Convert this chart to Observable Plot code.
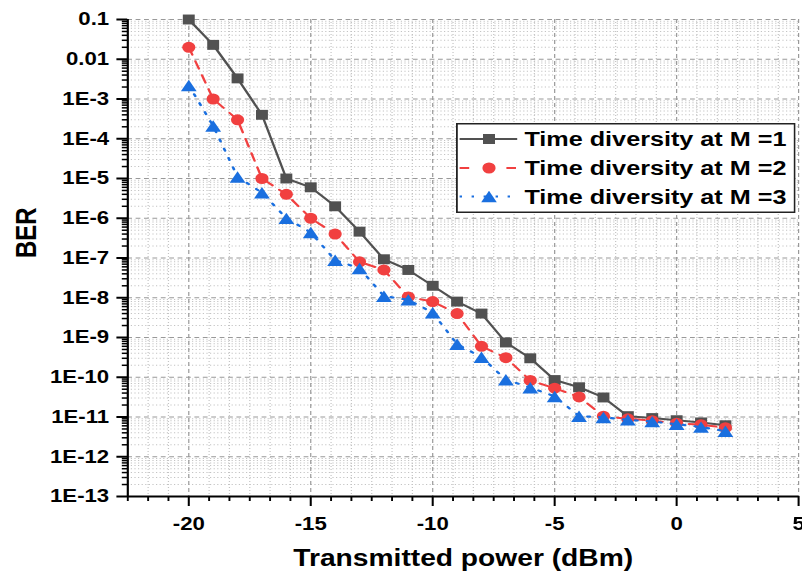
<!DOCTYPE html>
<html>
<head>
<meta charset="utf-8">
<script src="https://cdn.jsdelivr.net/npm/d3@7"></script>
<script src="https://cdn.jsdelivr.net/npm/@observablehq/plot@0.6"></script>
<style>
  html, body { margin: 0; padding: 0; background: #fff; }
  #wrap { position: relative; width: 668px; height: 576px; transform: scaleX(1.2); transform-origin: 0 0; font-family: "Liberation Sans", Arial, sans-serif; }
  #legend { position: absolute; left: 380px; top: 123px; }
</style>
</head>
<body>
<div id="wrap"><div id="chart"></div><div id="legend"></div></div>
<script>
// ---- data ----
const power = [-20,-19,-18,-17,-16,-15,-14,-13,-12,-11,-10,-9,-8,-7,-6,-5,-4,-3,-2,-1,0,1,2];
const berM1 = [0.1, 0.023, 3.3e-3, 4e-4, 1e-5, 6e-6, 2e-6, 4.6e-7, 9.3e-8, 5e-8, 2e-8, 8e-9, 4e-9, 7.5e-10, 3e-10, 8.5e-11, 5.6e-11, 3.1e-11, 1.05e-11, 9.4e-12, 8.3e-12, 7.3e-12, 6.2e-12];
const berM2 = [0.02, 1e-3, 3e-4, 1e-5, 4e-6, 1e-6, 4e-7, 8e-8, 5e-8, 1.05e-8, 8e-9, 4e-9, 6e-10, 3.1e-10, 8.3e-11, 5.3e-11, 3.2e-11, 1.05e-11, 9e-12, 8.1e-12, 7e-12, 6.4e-12, 5.4e-12];
const berM3 = [2.2e-3, 2.1e-4, 1.1e-5, 4.4e-6, 1e-6, 4.4e-7, 8.8e-8, 5.5e-8, 1.1e-8, 8.9e-9, 4.2e-9, 6.8e-10, 3.2e-10, 8.7e-11, 5.5e-11, 3.3e-11, 1.05e-11, 9.8e-12, 8.5e-12, 7.7e-12, 6.6e-12, 5.6e-12, 4.4e-12];
const seriesNames = ["Time diversity at M =1", "Time diversity at M =2", "Time diversity at M =3"];
const xTickValues = [-20, -15, -10, -5, 0, 5];
const xTickLabels = ["-20", "-15", "-10", "-5", "0", "5"];
const yTickValues = [1e-13, 1e-12, 1e-11, 1e-10, 1e-9, 1e-8, 1e-7, 1e-6, 1e-5, 1e-4, 1e-3, 0.01, 0.1];
const yTickLabels = ["1E-13", "1E-12", "1E-11", "1E-10", "1E-9", "1E-8", "1E-7", "1E-6", "1E-5", "1E-4", "1E-3", "0.01", "0.1"];
const xLabel = "Transmitted power (dBm)";
const yLabel = "BER";

// ---- styles ----
const colors = ["#515151", "#F14040", "#1A6FDF"];
const xDomain = [-22.5, 5];
const yDomain = [1e-13, 0.1];

// minor ticks (axis furniture)
const xMinor = [];
for (let k = 0; k <= 33; k++) {
  const v = xDomain[0] + k * 5 / 6;
  if (Math.abs(v / 5 - Math.round(v / 5)) > 1e-6) xMinor.push(v);
}
const yMinor = [];
for (let e = -13; e <= -2; e++) for (let d = 2; d <= 9; d++) yMinor.push(d * Math.pow(10, e));

const toRows = arr => power.map((x, i) => ({x, y: arr[i]}));
const s1 = toRows(berM1), s2 = toRows(berM2), s3 = toRows(berM3);
const fy = d => yTickLabels[yTickValues.indexOf(d)];
const fx = d => xTickLabels[xTickValues.indexOf(d)];

const chart = Plot.plot({
  width: 668, height: 576,
  marginLeft: 106, marginRight: 3, marginTop: 19, marginBottom: 80,
  style: {fontFamily: "'Liberation Sans', Arial, sans-serif", fontWeight: "bold", background: "white", color: "black", overflow: "visible"},
  x: {domain: xDomain},
  y: {type: "log", domain: yDomain},
  marks: [
    Plot.gridY(yMinor, {stroke: "#c4c4c4", strokeOpacity: 1, strokeDasharray: "1 2", strokeWidth: 1}),
    Plot.gridX(xMinor, {stroke: "#c4c4c4", strokeOpacity: 1, strokeDasharray: "1 2", strokeWidth: 1}),
    Plot.gridY(yTickValues, {stroke: "#999", strokeOpacity: 1, strokeDasharray: "4 3", strokeWidth: 1}),
    Plot.gridX(xTickValues, {stroke: "#999", strokeOpacity: 1, strokeDasharray: "4 3", strokeWidth: 1}),
    Plot.axisY(yMinor, {tickSize: 4.5, strokeWidth: 1.5, fill: "none", label: null}),
    Plot.axisY(yTickValues, {tickSize: 9, tickPadding: 6.5, strokeWidth: 2, tickFormat: fy, fontSize: 18.5, label: null}),
    Plot.axisX(xMinor, {tickSize: 5, strokeWidth: 1.6, fill: "none", label: null}),
    Plot.axisX(xTickValues, {tickSize: 10, tickPadding: 10, strokeWidth: 1.7, tickFormat: fx, fontSize: 18.5, label: null}),
    Plot.ruleX([xDomain[0]], {stroke: "black", strokeWidth: 1.8}),
    Plot.ruleY([yDomain[0]], {stroke: "black", strokeWidth: 2}),
    Plot.line(s1, {x: "x", y: "y", stroke: colors[0], strokeWidth: 2}),
    Plot.dot(s1, {x: "x", y: "y", symbol: "square", r: 5.6, fill: colors[0], stroke: "none"}),
    Plot.line(s2, {x: "x", y: "y", stroke: colors[1], strokeWidth: 2, strokeDasharray: "8 7"}),
    Plot.dot(s2, {x: "x", y: "y", symbol: "circle", r: 5.5, fill: colors[1], stroke: "none"}),
    Plot.line(s3, {x: "x", y: "y", stroke: colors[2], strokeWidth: 2.2, strokeDasharray: "2 8"}),
    Plot.dot(s3, {x: "x", y: "y", symbol: "triangle", r: 4.9, fill: colors[2], stroke: "none", dy: 2}),
    Plot.text([xLabel], {text: d => d, frameAnchor: "bottom", dy: 62, fontSize: 23.5, lineAnchor: "middle", fill: "black"}),
    Plot.text([yLabel], {text: d => d, frameAnchor: "left", dx: -84, rotate: -90, fontSize: 24, lineAnchor: "middle", fill: "black"})
  ]
});
document.getElementById("chart").appendChild(chart);

// ---- legend ----
const rowsY = [16, 45, 73.5];
const tri = (cx, cy, w) => { const h = w * Math.sqrt(3) / 2; return `${cx},${cy - h / 2} ${cx - w / 2},${cy + h / 2} ${cx + w / 2},${cy + h / 2}`; };
let lg = `<svg width="283" height="90" xmlns="http://www.w3.org/2000/svg" style="font-family:'Liberation Sans',Arial,sans-serif;font-weight:bold">`;
lg += `<rect x="0.75" y="0.75" width="281.5" height="88.5" fill="white" stroke="#222" stroke-width="1.5"/>`;
// series 1
lg += `<line x1="3" x2="51" y1="${rowsY[0]}" y2="${rowsY[0]}" stroke="${colors[0]}" stroke-width="2"/>`;
lg += `<rect x="${27.5 - 5}" y="${rowsY[0] - 5}" width="10" height="10" fill="${colors[0]}"/>`;
// series 2
lg += `<line x1="3" x2="11" y1="${rowsY[1]}" y2="${rowsY[1]}" stroke="${colors[1]}" stroke-width="2"/>`;
lg += `<line x1="42" x2="50" y1="${rowsY[1]}" y2="${rowsY[1]}" stroke="${colors[1]}" stroke-width="2"/>`;
lg += `<circle cx="27.5" cy="${rowsY[1]}" r="5.5" fill="${colors[1]}"/>`;
// series 3
lg += `<line x1="3" x2="51" y1="${rowsY[2]}" y2="${rowsY[2]}" stroke="${colors[2]}" stroke-width="2" stroke-dasharray="2 8"/>`;
lg += `<polygon points="${tri(27.5, rowsY[2], 13)}" fill="${colors[2]}"/>`;
seriesNames.forEach((n, i) => {
  lg += `<text x="57" y="${rowsY[i] + 7.4}" font-size="21" fill="black">${n}</text>`;
});
lg += `</svg>`;
document.getElementById("legend").innerHTML = lg;
</script>
</body>
</html>
